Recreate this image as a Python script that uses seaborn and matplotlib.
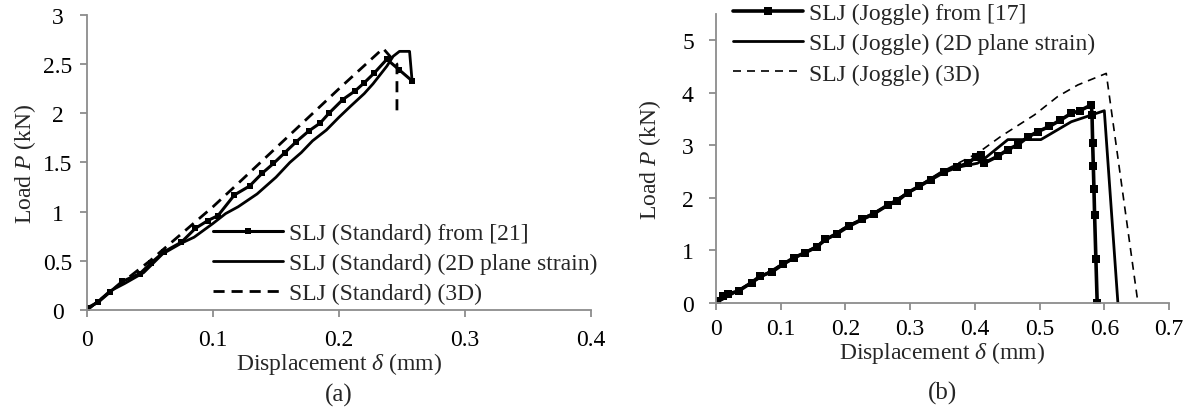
import numpy as np
import pandas as pd
import matplotlib
matplotlib.use("Agg")
import matplotlib.pyplot as plt
import seaborn as sns

# (a) SLJ Standard
std_exp_x = [0, 0.009, 0.018, 0.028, 0.042, 0.051, 0.061, 0.075, 0.086, 0.096, 0.104, 0.117, 0.129,
             0.139, 0.148, 0.157, 0.166, 0.176, 0.185, 0.192, 0.203, 0.213, 0.220, 0.228, 0.238, 0.248, 0.258]
std_exp_y = [0.02, 0.08, 0.18, 0.29, 0.37, 0.48, 0.59, 0.69, 0.83, 0.91, 0.96, 1.17, 1.26,
             1.39, 1.49, 1.60, 1.71, 1.82, 1.90, 2.00, 2.14, 2.23, 2.31, 2.41, 2.55, 2.44, 2.33]

std_2d_x = [0, 0.01, 0.018, 0.03, 0.045, 0.06, 0.075, 0.085, 0.1, 0.11, 0.12, 0.135, 0.15, 0.161,
            0.17, 0.179, 0.19, 0.2, 0.209, 0.22, 0.227, 0.238, 0.243, 0.248, 0.256, 0.258]
std_2d_y = [0, 0.1, 0.19, 0.27, 0.38, 0.57, 0.68, 0.74, 0.88, 0.98, 1.05, 1.18, 1.35, 1.50,
            1.60, 1.72, 1.83, 1.96, 2.07, 2.20, 2.30, 2.48, 2.58, 2.63, 2.63, 2.33]

std_3d_x = [0, 0.05, 0.1, 0.121, 0.2, 0.235, 0.246, 0.246]
std_3d_y = [0, 0.5, 1.05, 1.30, 2.25, 2.66, 2.50, 2.03]

# (b) SLJ Joggle
jog_exp_x = [0.001, 0.011, 0.019, 0.035, 0.055, 0.068, 0.086, 0.104, 0.120, 0.138, 0.156, 0.169, 0.187,
             0.205, 0.226, 0.244, 0.265, 0.280, 0.296, 0.314, 0.332, 0.352, 0.373, 0.389, 0.402, 0.409,
             0.414, 0.435, 0.451, 0.466, 0.482, 0.497, 0.515, 0.532, 0.549, 0.562, 0.580,
             0.581, 0.582, 0.583, 0.584, 0.585, 0.587, 0.589]
jog_exp_y = [0.03, 0.14, 0.17, 0.23, 0.39, 0.51, 0.59, 0.74, 0.86, 0.96, 1.07, 1.21, 1.32,
             1.46, 1.59, 1.70, 1.86, 1.94, 2.10, 2.22, 2.35, 2.49, 2.59, 2.66, 2.78, 2.82,
             2.66, 2.79, 2.92, 3.01, 3.16, 3.26, 3.36, 3.48, 3.61, 3.66, 3.77,
             3.58, 3.04, 2.61, 2.17, 1.67, 0.83, 0]

jog_2d_x = [0, 0.05, 0.1, 0.15, 0.2, 0.25, 0.3, 0.352, 0.38, 0.404, 0.412, 0.451, 0.502, 0.549, 0.600, 0.621]
jog_2d_y = [0, 0.35, 0.72, 1.04, 1.44, 1.75, 2.12, 2.52, 2.60, 2.66, 2.72, 3.11, 3.11, 3.45, 3.66, 0]

jog_3d_x = [0, 0.05, 0.1, 0.15, 0.2, 0.25, 0.3, 0.352, 0.404, 0.44, 0.492, 0.528, 0.559, 0.603, 0.652]
jog_3d_y = [0, 0.36, 0.73, 1.05, 1.45, 1.76, 2.13, 2.52, 2.85, 3.17, 3.58, 3.93, 4.15, 4.37, 0]

FS = 17

sns.set_style("ticks")
plt.rcParams['font.family'] = ['Liberation Serif', 'DejaVu Serif']
plt.rcParams['mathtext.fontset'] = 'custom'
plt.rcParams['mathtext.rm'] = 'Liberation Serif'
plt.rcParams['mathtext.it'] = 'Liberation Serif:italic'
plt.rcParams['font.size'] = FS

fig = plt.figure(figsize=(11.93, 4.14), dpi=100)
ax1 = fig.add_axes([0.0729, 0.2488, 0.4225, 0.7126])
ax2 = fig.add_axes([0.6002, 0.2657, 0.3797, 0.698])

def draw(ax, x, y, label, **kw):
    df = pd.DataFrame({'x': x, 'y': y})
    sns.lineplot(data=df, x='x', y='y', ax=ax, sort=False, estimator=None, label=label, **kw)

# (a)
draw(ax1, std_exp_x, std_exp_y, 'SLJ (Standard) from [21]', color='black', lw=2.2,
     marker='s', markersize=5, markeredgewidth=0)
draw(ax1, std_2d_x, std_2d_y, 'SLJ (Standard) (2D plane strain)', color='black', lw=2.0)
draw(ax1, std_3d_x, std_3d_y, 'SLJ (Standard) (3D)', color='black', lw=2.0, dashes=(4, 2.5))

# (b)
draw(ax2, jog_exp_x, jog_exp_y, 'SLJ (Joggle) from [17]', color='black', lw=2.6,
     marker='s', markersize=5.5, markeredgewidth=0)
draw(ax2, jog_2d_x, jog_2d_y, 'SLJ (Joggle) (2D plane strain)', color='black', lw=2.0)
draw(ax2, jog_3d_x, jog_3d_y, 'SLJ (Joggle) (3D)', color='black', lw=1.2, dashes=(4.8, 3.6))

ax1.set_xlim(0, 0.4)
ax1.set_ylim(0, 3)
ax1.set_xticks([0, 0.1, 0.2, 0.3, 0.4])
ax1.set_xticklabels(['0', '0.1', '0.2', '0.3', '0.4'])
ax1.set_yticks([0, 0.5, 1, 1.5, 2, 2.5, 3])
ax1.set_yticklabels(['0', '0.5', '1', '1.5', '2', '2.5', '3'])

ax2.set_xlim(0, 0.7)
ax2.set_ylim(0, 5.5)
ax2.set_xticks(np.arange(0, 0.71, 0.1))
ax2.set_xticklabels(['0', '0.1', '0.2', '0.3', '0.4', '0.5', '0.6', '0.7'])
ax2.set_yticks([0, 1, 2, 3, 4, 5])

# posições (fração dos eixos) medidas na imagem
layout = {
    ax1: dict(tag='(a)', xl=-0.178, yl=-0.123, tagy=-0.285, xpad=9, ypad=16),
    ax2: dict(tag='(b)', xl=-0.168, yl=-0.146, tagy=-0.308, xpad=6, ypad=11),
}

for ax, p in layout.items():
    sns.despine(ax=ax)
    for s in ['left', 'bottom']:
        ax.spines[s].set_color('#8c8c8c')
        ax.spines[s].set_linewidth(1.3)
    ax.tick_params(axis='both', colors='#8c8c8c', labelcolor='black', length=5, width=1.3,
                   labelsize=FS)
    ax.tick_params(axis='x', pad=p['xpad'])
    ax.tick_params(axis='y', pad=p['ypad'])
    ax.set_xlabel(r'Displacement $\it{\delta}$ (mm)', fontsize=FS)
    ax.set_ylabel(r'Load $\it{P}$ (kN)', fontsize=FS)
    ax.xaxis.label.set_va('center')
    ax.yaxis.label.set_va('center')
    ax.xaxis.set_label_coords(0.5, p['xl'])
    ax.yaxis.set_label_coords(p['yl'], 0.5)
    ax.text(0.5, p['tagy'], p['tag'], transform=ax.transAxes, ha='center', va='center', fontsize=FS + 1)

# rótulos do eixo y em (a) aparecem centralizados
for t in ax1.get_yticklabels():
    t.set_ha('center')

ax1.legend(loc='lower left', bbox_to_anchor=(0.25, 0.019), frameon=False, borderpad=0,
           borderaxespad=0, handlelength=2.95, handletextpad=0.25, labelspacing=0.37, fontsize=FS)
ax2.legend(loc='upper left', bbox_to_anchor=(0.0375, 1.04), frameon=False, borderpad=0,
           borderaxespad=0, handlelength=2.95, handletextpad=0.25, labelspacing=0.37, fontsize=FS)

fig.savefig('out.png', dpi=100)
